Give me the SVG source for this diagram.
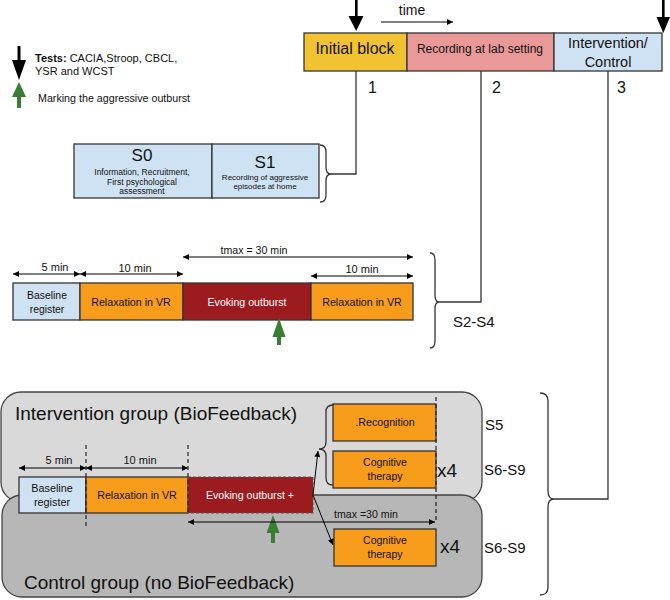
<svg xmlns="http://www.w3.org/2000/svg" width="670" height="600" viewBox="0 0 670 600">
<defs>
<marker id="ah" viewBox="0 0 10 10" refX="10" refY="5" markerWidth="7" markerHeight="6" markerUnits="userSpaceOnUse" orient="auto-start-reverse"><path d="M0,0 L10,5 L0,10 z" fill="#000"/></marker>
</defs>
<style>
text{font-family:"Liberation Sans",Arial,sans-serif;fill:#111}
.c{text-anchor:middle}
.box{stroke:#333;stroke-width:1.3}
.ln{fill:none;stroke:#333;stroke-width:1.3}
.ar{fill:none;stroke:#000;stroke-width:1;marker-start:url(#ah);marker-end:url(#ah)}
.dash{fill:none;stroke:#222;stroke-width:1.2;stroke-dasharray:4,3}
.blue{fill:#cfe2f3}
.orange{fill:#f89c1c}
.red{fill:#9b1b1e}
.green{fill:#3a7d34}
</style>

<!-- legend -->
<g id="legend">
<rect x="17.5" y="46" width="3" height="16" fill="#000"/>
<polygon points="12,60 26,60 19,80" fill="#000"/>
<polygon class="green" points="19,82 12,97 26,97"/>
<rect class="green" x="17" y="96" width="4" height="12"/>
<text x="35" y="62" font-size="11"><tspan font-weight="bold">Tests:</tspan> CACIA,Stroop, CBCL,</text>
<text x="35" y="75" font-size="11">YSR  and WCST</text>
<text x="38" y="102" font-size="10.7">Marking the aggressive outburst</text>
</g>

<!-- timeline -->
<g id="timeline">
<rect x="355" y="0" width="2.6" height="17" fill="#000"/>
<polygon points="348.5,16 363.5,16 356.2,31" fill="#000"/>
<rect x="662" y="0" width="2.6" height="18" fill="#000"/>
<polygon points="656.5,17 670,17 663.3,33" fill="#000"/>
<text x="412" y="15" class="c" font-size="14">time</text>
<line x1="381" y1="22" x2="453" y2="22" stroke="#000" stroke-width="1" marker-end="url(#ah)"/>
</g>
<g id="initial-block">
<rect class="box" x="304" y="33" width="103" height="38" fill="#f1c232"/>
<text x="355" y="54" class="c" font-size="16">Initial block</text>
</g>
<g id="recording-lab">
<rect class="box" x="407" y="33" width="147" height="38" fill="#ea9999"/>
<text x="480" y="53" class="c" font-size="12">Recording at lab setting</text>
</g>
<g id="intervention-control">
<rect class="box" x="554" y="33" width="108" height="38" fill="#cfe2f3"/>
<text x="608" y="48" class="c" font-size="14.5">Intervention/</text>
<text x="608" y="67" class="c" font-size="14.5">Control</text>
</g>
<g id="numbers">
<text x="368" y="93" font-size="16">1</text>
<text x="492" y="93" font-size="16">2</text>
<text x="617" y="93" font-size="16">3</text>
</g>

<!-- S0 S1 -->
<g id="s0">
<rect class="box blue" x="74" y="144" width="138" height="54"/>
<text x="142" y="161" class="c" font-size="17">S0</text>
<text x="142" y="175" class="c" font-size="8.5">Information, Recruitment,</text>
<text x="142" y="185" class="c" font-size="8.5">First psychological</text>
<text x="142" y="194" class="c" font-size="8.5">assessment</text>
</g>
<g id="s1">
<rect class="box blue" x="212" y="144" width="107" height="54"/>
<text x="265" y="168" class="c" font-size="17">S1</text>
<text x="265" y="180" class="c" font-size="8">Recording of aggressive</text>
<text x="265" y="189" class="c" font-size="8">episodes at home</text>
</g>

<!-- S2-S4 row -->
<g id="row2-baseline">
<rect class="box blue" x="13" y="283" width="67" height="37"/>
<text x="47" y="299" class="c" font-size="10.4">Baseline</text>
<text x="47" y="313" class="c" font-size="10.4">register</text>
</g>
<g id="row2-relax1">
<rect class="box orange" x="80" y="283" width="103" height="37"/>
<text x="131" y="306" class="c" font-size="10.7">Relaxation in VR</text>
</g>
<g id="row2-evoking">
<rect class="box red" x="183" y="283" width="128" height="37"/>
<text x="247" y="306" class="c" font-size="10.6" style="fill:#fff">Evoking outburst</text>
</g>
<g id="row2-relax2">
<rect class="box orange" x="311" y="283" width="102" height="37"/>
<text x="362" y="306" class="c" font-size="10.7">Relaxation in VR</text>
</g>
<g id="row2-green">
<polygon class="green" points="279,318 272.5,337 285.5,337"/>
<rect class="green" x="277" y="336" width="4" height="9"/>
</g>
<g id="row2-labels">
<text x="55" y="271" class="c" font-size="11">5 min</text>
<text x="135" y="272" class="c" font-size="11">10 min</text>
<text x="254" y="254" class="c" font-size="10.6">tmax = 30 min</text>
<text x="362" y="273" class="c" font-size="11">10 min</text>
<text x="453" y="327" font-size="15">S2-S4</text>
</g>

<!-- groups -->
<g id="intervention-group">
<rect x="1" y="392" width="481" height="110" rx="20" fill="#d9d9d9" stroke="#444" stroke-width="1.3"/>
<text x="15" y="420" font-size="19">Intervention group (BioFeedback)</text>
</g>
<g id="control-group">
<rect x="2" y="495" width="480" height="102" rx="20" fill="#b7b7b7" stroke="#444" stroke-width="1.3"/>
<text x="24" y="589" font-size="19">Control group (no BioFeedback)</text>
</g>

<g id="bg-baseline">
<rect class="box blue" x="19" y="477" width="67" height="36"/>
<text x="52" y="492" class="c" font-size="10.8">Baseline</text>
<text x="52" y="506" class="c" font-size="10.8">register</text>
</g>
<g id="bg-relax">
<rect class="box orange" x="86" y="477" width="102" height="36"/>
<text x="137" y="499" class="c" font-size="10.7">Relaxation in VR</text>
</g>
<g id="bg-evoking">
<rect x="188" y="477" width="125" height="36" class="red" stroke="#555" stroke-width="1.1" stroke-dasharray="3,2"/>
<text x="250" y="499" class="c" font-size="10.6" style="fill:#fff">Evoking outburst +</text>
</g>
<g id="bg-green">
<polygon class="green" points="273,515 266.5,533 279.5,533"/>
<rect class="green" x="271" y="532" width="4" height="11"/>
</g>
<g id="recognition">
<rect class="box orange" x="333" y="404" width="103" height="37"/>
<text x="385" y="426" class="c" font-size="10.7">.Recognition</text>
</g>
<g id="cognitive-int">
<rect class="box orange" x="333" y="451" width="103" height="37"/>
<text x="385" y="466" class="c" font-size="10.5">Cognitive</text>
<text x="385" y="480" class="c" font-size="10.5">therapy</text>
</g>
<g id="cognitive-ctrl">
<rect class="box orange" x="334" y="529" width="102" height="37"/>
<text x="385" y="544" class="c" font-size="10.5">Cognitive</text>
<text x="385" y="558" class="c" font-size="10.5">therapy</text>
</g>
<g id="bottom-labels">
<text x="59" y="464" class="c" font-size="11">5 min</text>
<text x="140" y="464" class="c" font-size="11">10 min</text>
<text x="334" y="518" font-size="10.6">tmax =30 min</text>
<text x="437" y="477" font-size="19">x4</text>
<text x="440" y="553" font-size="19">x4</text>
<text x="485" y="430" font-size="15">S5</text>
<text x="484" y="475" font-size="15">S6-S9</text>
<text x="484" y="553" font-size="15">S6-S9</text>
</g>

<!-- connectors -->
<g id="connectors">
<path class="ln" d="M320,145 Q326,145 326,152 L326,167 Q326,174 331,174 Q326,174 326,181 L326,195 Q326,202 320,202"/>
<path class="ln" d="M331,174 H356 V71"/>
<path class="ln" d="M430,253 Q435,253 435,260 L435,295 Q435,302 439,302 Q435,302 435,309 L435,341 Q435,348 430,348"/>
<path class="ln" d="M439,302 H481 V71"/>
<path class="ln" d="M540,393 Q548,393 548,401 L548,491 Q548,499 554,499 Q548,499 548,507 L548,587 Q548,595 540,595"/>
<path class="ln" d="M554,499 H608 V71"/>
<path class="ln" d="M333,405 Q326,405 326,412 L326,442 Q326,449 319,449 Q326,449 326,456 L326,478 Q326,485 333,485"/>
<line class="ar" x1="13" y1="274" x2="80" y2="274"/>
<line class="ar" x1="80" y1="274" x2="183" y2="274"/>
<line class="ar" x1="183" y1="257" x2="413" y2="257"/>
<line class="ar" x1="311" y1="276" x2="413" y2="276"/>
<line class="ar" x1="19" y1="468" x2="86" y2="468"/>
<line class="ar" x1="86" y1="468" x2="188" y2="468"/>
<line class="ar" x1="188" y1="522" x2="435" y2="522"/>
<line class="dash" x1="86" y1="445" x2="86" y2="528"/>
<line class="dash" x1="188" y1="445" x2="188" y2="513"/>
<line class="dash" x1="436" y1="397" x2="436" y2="523"/>
<line x1="313" y1="495" x2="318" y2="451" stroke="#000" stroke-width="1" marker-end="url(#ah)"/>
<line x1="313" y1="495" x2="333" y2="545" stroke="#000" stroke-width="1" marker-end="url(#ah)"/>
</g>
</svg>
